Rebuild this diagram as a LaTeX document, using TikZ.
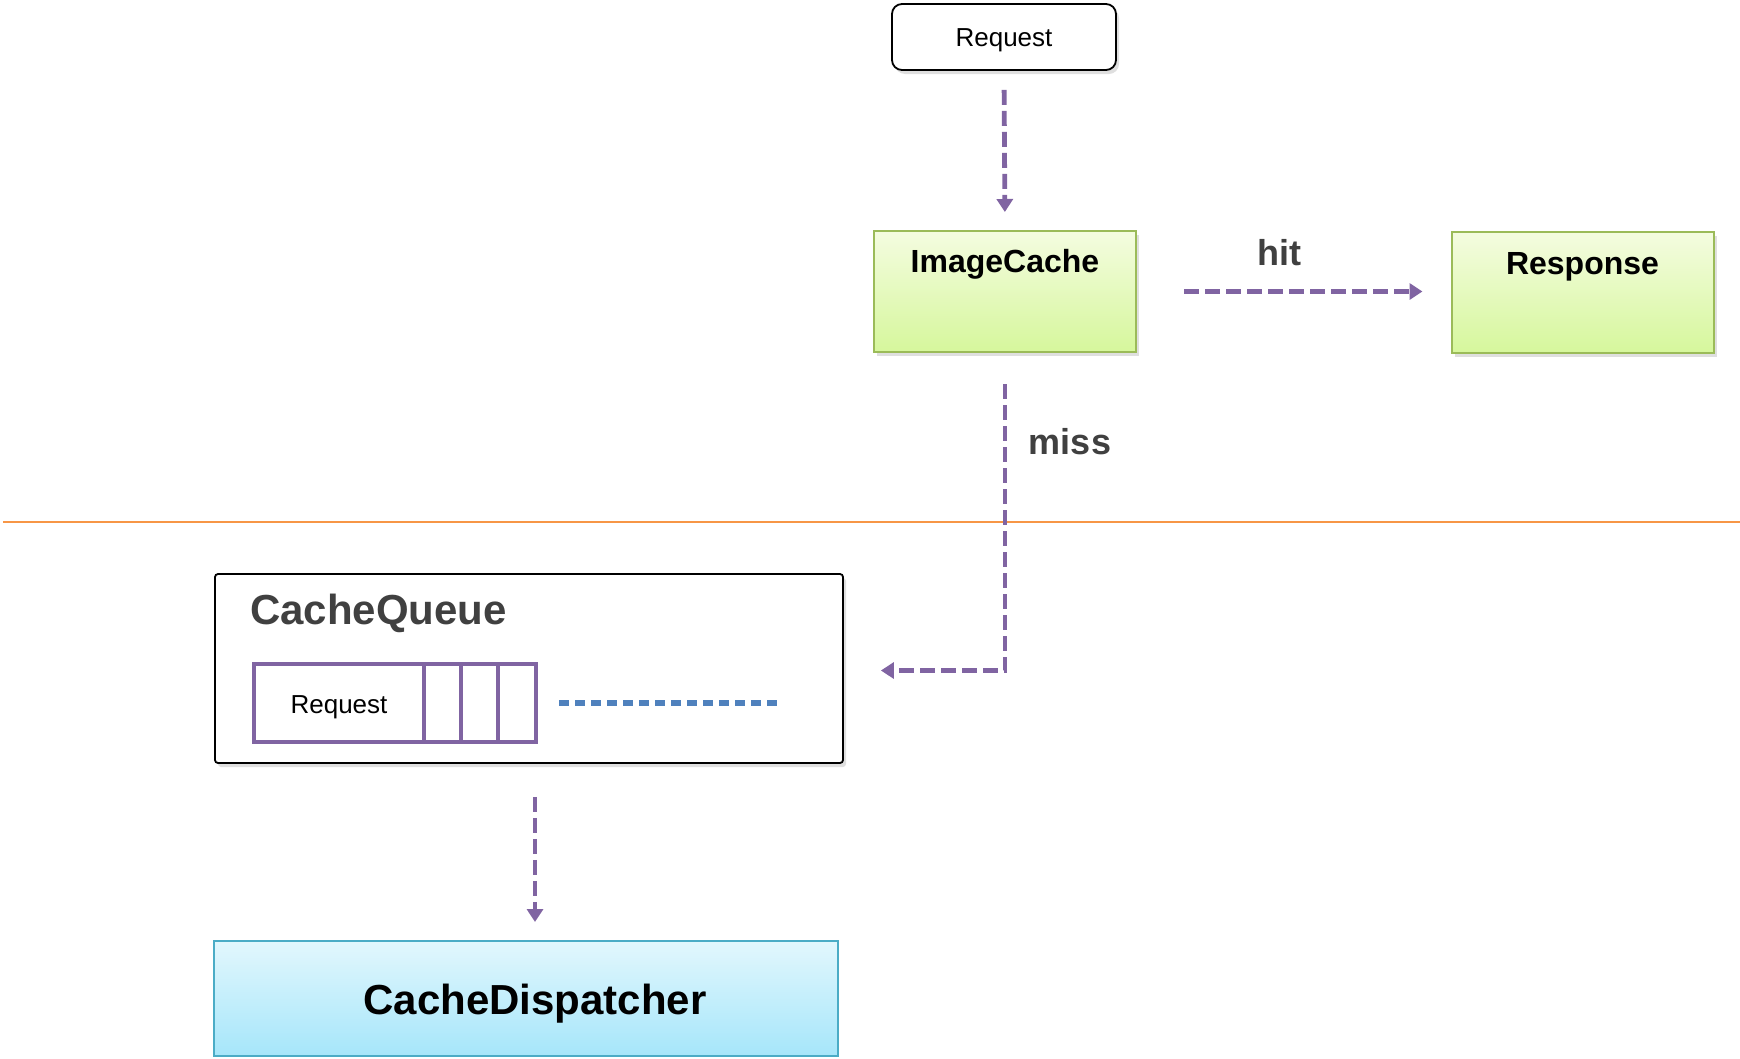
\documentclass[tikz,border=0pt]{standalone}
\usepackage{fontspec}
\setmainfont{Liberation Sans}
\usetikzlibrary{arrows.meta,shadows,calc}
\definecolor{arrowpurple}{HTML}{8064A2}
\definecolor{greenborder}{HTML}{9BBB59}
\definecolor{greentop}{HTML}{F4FCE0}
\definecolor{greenbot}{HTML}{D6F79C}
\definecolor{bluetop}{HTML}{E2F7FD}
\definecolor{bluebot}{HTML}{A6E6FA}
\definecolor{blueborder}{HTML}{4BACC6}
\definecolor{dotblue}{HTML}{4F81BD}
\definecolor{orangeline}{HTML}{F79646}
\definecolor{darktext}{HTML}{404040}
\newcommand{\fsz}[1]{\fontsize{#1pt}{#1pt}\selectfont}
\tikzset{
  shadowed/.style={drop shadow={opacity=0.25,shadow xshift=3pt,shadow yshift=-4pt}},
  reqbox/.style={draw=black,line width=1.8pt,rounded corners=10pt,fill=white,shadowed,
    minimum width=224pt,minimum height=66pt,inner sep=0pt},
  greenbox/.style={draw=greenborder,line width=2pt,top color=greentop,bottom color=greenbot,
    shadowed,minimum width=262pt,minimum height=121pt,inner sep=0pt},
  bluebox/.style={draw=blueborder,line width=2pt,top color=bluetop,bottom color=bluebot,
    minimum width=624pt,minimum height=115pt,inner sep=0pt},
  queuebox/.style={draw=black,line width=1.8pt,rounded corners=3pt,fill=white,shadowed,
    minimum width=628pt,minimum height=189pt,inner sep=0pt},
  qcell/.style={draw=arrowpurple,line width=4.5pt,minimum height=78pt,inner sep=0pt},
  plaintext/.style={font=\fsz{26},inner sep=0pt},
  boldlabel/.style={font=\fsz{32}\bfseries,inner sep=0pt},
  bigbold/.style={font=\fsz{42}\bfseries,inner sep=0pt},
  graylabel/.style={font=\fsz{36}\bfseries,text=darktext,inner sep=0pt},
  flow/.style={draw=arrowpurple,line width=4.8pt,dash pattern=on 15pt off 6pt,
    -{Triangle[width=16pt,length=13pt]}},
  bluedots/.style={draw=dotblue,line width=6pt,dash pattern=on 10pt off 6pt},
}
\begin{document}
\begin{tikzpicture}[x=1pt,y=-1pt]
\useasboundingbox (0,0) rectangle (1740,1058);
% separator
\coordinate (sepL) at (3,522);
\coordinate (sepR) at (1740,522);
\draw[orangeline,line width=2pt] (sepL) -- (sepR);
% top nodes
\node[reqbox] (req) at (1004,37) {};
\node[plaintext] (reqtext) at ([yshift=-3.5pt]req.center) {Request};
\node[greenbox] (ic) at (1005,291.5) {};
\node[boldlabel] (ictext) at ([yshift=-34.5pt]ic.north) {ImageCache};
\node[greenbox] (resp) at (1582.5,292.5) {};
\node[boldlabel] (resptext) at ([yshift=-36pt]resp.north) {Response};
% cache queue
\node[queuebox] (cq) at (529,668.5) {};
\node[bigbold,text=darktext,anchor=west] (cqtitle) at (250,613.5) {CacheQueue};
\node[qcell,minimum width=170pt] (q0) at (339,703) {};
\node[plaintext] (q0text) at ([yshift=-4pt]q0.center) {Request};
\node[qcell,minimum width=37pt] (q1) at (442.5,703) {};
\node[qcell,minimum width=37pt] (q2) at (479.5,703) {};
\node[qcell,minimum width=38pt] (q3) at (517,703) {};
\coordinate (qend) at (783,703);
\draw[bluedots,shorten <=21pt] (q3.east) -- (qend);
% dispatcher
\node[bluebox] (disp) at (526,998.5) {};
\node[bigbold] (disptext) at (535,1003.5) {CacheDispatcher};
% connectors
\draw[flow,shorten <=19pt,shorten >=18pt] (req.south) -- (ic.north);
\draw[flow,shorten <=47pt,shorten >=28pt] (ic.east) -- (ic.east -| resp.west);
\node[graylabel] (hit) at (1279,253) {hit};
\draw[flow,shorten <=31pt,shorten >=37pt] (ic.south) |- ([yshift=-2pt]cq.east);
\node[graylabel] (miss) at (1070,442) {miss};
\draw[flow,shorten <=33pt,shorten >=18pt] ([xshift=6pt]cq.south) -- ([xshift=6pt]cq.south |- disp.north);
\end{tikzpicture}
\end{document}
